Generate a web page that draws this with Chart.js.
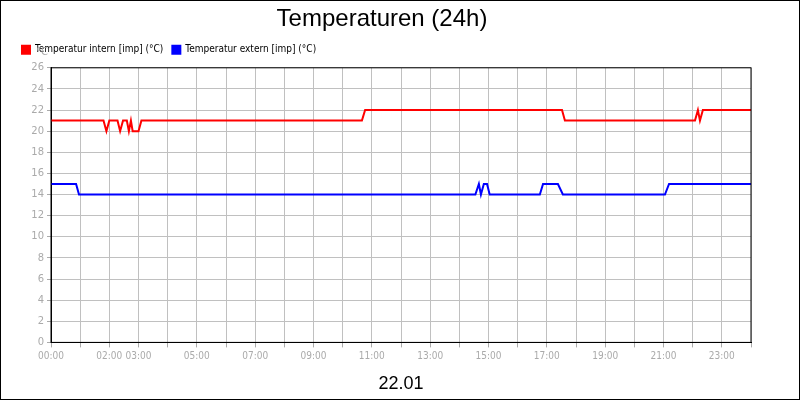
<!DOCTYPE html>
<html>
<head>
<meta charset="utf-8">
<script src="https://cdn.jsdelivr.net/npm/chart.js@4"></script>
<style>
  body { margin: 0; background: #fff; }
  #wrap { width: 798px; height: 398px; border: 1px solid #000; }
</style>
</head>
<body>
<div id="wrap"><canvas id="chart" width="798" height="398"></canvas></div>
<script>
// hours of day (0-24) and temperatures
const internHours = [0, 1.8, 1.9, 2.0, 2.28, 2.37, 2.47, 2.6, 2.67, 2.74, 2.8, 3.0, 3.1, 10.66, 10.77, 17.52, 17.62, 22.08, 22.18, 22.25, 22.35, 24];
const internTemps = [21, 21, 20, 21, 21, 20, 21, 21, 20, 21, 20, 20, 21, 21, 22, 22, 21, 21, 22, 21, 22, 22];
const externHours = [0, 0.86, 0.96, 14.55, 14.67, 14.74, 14.84, 14.95, 15.04, 16.76, 16.87, 17.38, 17.55, 21.05, 21.19, 24];
const externTemps = [15, 15, 14, 14, 15, 14, 15, 15, 14, 14, 15, 15, 14, 14, 15, 15];
const hourLabels = ['00:00', '02:00', '03:00', '05:00', '07:00', '09:00', '11:00', '13:00', '15:00', '17:00', '19:00', '21:00', '23:00'];
const yTicks = [0, 2, 4, 6, 8, 10, 12, 14, 16, 18, 20, 22, 24, 26];

const toPoints = (xs, ys) => xs.map((x, i) => ({ x, y: ys[i] }));

const unitLabel = {
    id: 'unitLabel',
    afterDraw(chart) {
        const ctx = chart.ctx;
        ctx.save();
        ctx.font = '10px "DejaVu Sans", sans-serif';
        ctx.fillStyle = '#aaa';
        ctx.textAlign = 'right';
        ctx.fillText('°C', 47, 51);
        ctx.restore();
    }
};

new Chart(document.getElementById('chart'), {
    type: 'line',
    data: {
        datasets: [{
            label: 'Temperatur intern [imp] (°C)',
            data: toPoints(internHours, internTemps),
            borderColor: '#ff0000',
            backgroundColor: '#ff0000',
            borderWidth: 2,
            pointRadius: 0
        }, {
            label: 'Temperatur extern [imp] (°C)',
            data: toPoints(externHours, externTemps),
            borderColor: '#0000ff',
            backgroundColor: '#0000ff',
            borderWidth: 2,
            pointRadius: 0
        }]
    },
    options: {
        responsive: false,
        animation: false,
        layout: { padding: { left: 12, right: 48, top: 0, bottom: 0 } },
        plugins: {
            title: {
                display: true,
                text: 'Temperaturen (24h)',
                color: '#000',
                font: { family: 'Arial, "Liberation Sans", sans-serif', size: 24, weight: 'normal' },
                padding: { top: 4, bottom: 2 }
            },
            legend: {
                align: 'start',
                afterFit() {},
                labels: {
                    boxWidth: 8, boxHeight: 8, padding: 9,
                    color: '#000',
                    font: { family: '"DejaVu Sans Condensed", sans-serif', size: 10 }
                }
            },
            tooltip: { enabled: false }
        },
        scales: {
            x: {
                type: 'linear',
                min: 0, max: 24,
                afterBuildTicks: axis => { axis.ticks = Array.from({ length: 25 }, (_, i) => ({ value: i })); },
                ticks: {
                    autoSkip: false, maxRotation: 0,
                    color: '#aaa',
                    font: { family: '"DejaVu Sans Condensed", sans-serif', size: 10 },
                    callback: v => {
                        const s = String(v).padStart(2, '0') + ':00';
                        return hourLabels.includes(s) ? s : '';
                    }
                },
                grid: { color: '#c0c0c0', tickColor: '#aaa', tickLength: 5 },
                border: { color: '#000', width: 1 },
                title: {
                    display: true, text: '22.01', color: '#000',
                    font: { family: 'Arial, "Liberation Sans", sans-serif', size: 18 },
                    padding: { top: 8 }
                }
            },
            y: {
                min: 0, max: 26,
                afterFit: axis => { axis.width = 38; },
                afterBuildTicks: axis => { axis.ticks = yTicks.map(v => ({ value: v })); },
                ticks: {
                    color: '#aaa',
                    font: { family: '"DejaVu Sans", sans-serif', size: 10 }
                },
                grid: { color: '#c0c0c0', tickColor: '#aaa', tickLength: 4 },
                border: { color: '#000', width: 1 }
            }
        }
    },
    plugins: [unitLabel, {
        id: 'legendGap',
        beforeInit(chart) {
            const fit = chart.legend.fit;
            chart.legend.fit = function () { fit.call(this); this.height += 3; };
        }
    }, {
        id: 'frame',
        afterDraw(chart) {
            const { ctx, chartArea: a } = chart;
            ctx.save();
            ctx.strokeStyle = '#000';
            ctx.lineWidth = 1;
            ctx.strokeRect(a.left, a.top, a.right - a.left, a.bottom - a.top);
            ctx.restore();
        }
    }]
});
</script>
</body>
</html>
